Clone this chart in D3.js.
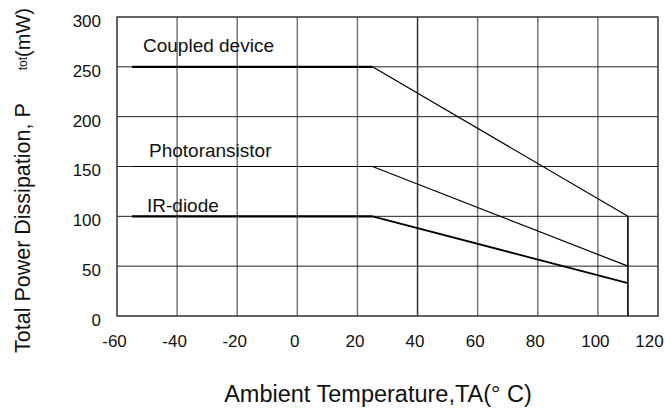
<!DOCTYPE html>
<html><head><meta charset="utf-8">
<script src="https://cdn.jsdelivr.net/npm/d3@7"></script>
<style>
html,body{margin:0;padding:0;background:#fff;}
svg{display:block;font-family:"Liberation Sans",Arial,sans-serif;}
</style></head>
<body>
<script>
// ---- data ----
const xTicks = [-60, -40, -20, 0, 20, 40, 60, 80, 100, 120];
const yTicks = [0, 50, 100, 150, 200, 250, 300];
const seriesNames = ["Coupled device", "Photoransistor", "IR-diode"];
const temps = [-55, 25, 110];
const coupledValues = [250, 250, 100];
const photoValues = [150, 150, 50];
const irValues = [100, 100, 33];
const cutoffTemp = 110;
const xTitle = "Ambient Temperature,TA(° C)";
const yTitleMain = "Total Power Dissipation, P";
const yTitleSub = "tot";
const yTitleUnit = "(mW)";

const W = 665, H = 410;
const svg = d3.select("body").append("svg").attr("width", W).attr("height", H);

const x = d3.scaleLinear().domain([-60, 120]).range([117, 658]);
const y = d3.scaleLinear().domain([0, 300]).range([316, 17]);

// vertical gridlines
svg.append("g").selectAll("line")
  .data(xTicks.slice(1, -1)).join("line")
  .attr("x1", d => x(d)).attr("x2", d => x(d))
  .attr("y1", y(300)).attr("y2", y(0))
  .attr("stroke", d => d === 40 ? "#333" : "#777").attr("stroke-width", 1.5);

// horizontal gridlines
svg.append("g").selectAll("line")
  .data(yTicks.slice(1, -1)).join("line")
  .attr("x1", x(-60)).attr("x2", x(120))
  .attr("y1", d => y(d)).attr("y2", d => y(d))
  .attr("stroke", "#222").attr("stroke-width", 1);

// frame
svg.append("rect")
  .attr("x", x(-60)).attr("y", y(300))
  .attr("width", x(120) - x(-60)).attr("height", y(0) - y(300))
  .attr("fill", "none").attr("stroke", "#333").attr("stroke-width", 1.5);

// axes (labels only, via d3 axes)
const fmt = d => String(d);
const xAxis = svg.append("g").attr("transform", `translate(-3,${y(0)})`)
  .call(d3.axisBottom(x).tickValues(xTicks).tickSize(0).tickPadding(19).tickFormat(fmt));
const yAxis = svg.append("g").attr("transform", `translate(${x(-60) - 16},4)`)
  .call(d3.axisLeft(y).tickValues(yTicks).tickSize(0).tickPadding(0).tickFormat(fmt));
[xAxis, yAxis].forEach(a => {
  a.select(".domain").remove();
  a.selectAll("text").attr("font-size", 17).attr("fill", "#111")
    .attr("font-family", "Liberation Sans, Arial, sans-serif");
});
xAxis.selectAll(".tick").filter(d => d === 120).select("text").attr("dx", -6);

// data series
const seriesData = [coupledValues, photoValues, irValues];
const flatWidth = [2.4, 1.2, 2.2];
const slopeWidth = [1.2, 1.2, 1.8];
const seg = d3.line().x(d => x(d[0])).y(d => y(d[1]));
seriesData.forEach((vals, k) => {
  svg.append("path")
    .attr("d", seg([[temps[0], vals[0]], [temps[1], vals[1]]]))
    .attr("fill", "none").attr("stroke", "#000").attr("stroke-width", flatWidth[k]);
  svg.append("path")
    .attr("d", seg([[temps[1], vals[1]], [temps[2], vals[2]]]))
    .attr("fill", "none").attr("stroke", "#000").attr("stroke-width", slopeWidth[k]);
});
// cutoff vertical line
svg.append("line")
  .attr("x1", x(cutoffTemp)).attr("x2", x(cutoffTemp))
  .attr("y1", y(d3.max(seriesData, v => v[2]))).attr("y2", y(0))
  .attr("stroke", "#000").attr("stroke-width", 1.6);

// series labels
const labelPos = [[143, 52], [149, 157], [147, 212]];
svg.append("g").selectAll("text").data(seriesNames).join("text")
  .attr("x", (d, i) => labelPos[i][0]).attr("y", (d, i) => labelPos[i][1])
  .attr("font-size", 19).attr("fill", "#111").text(d => d);

// x title
svg.append("text").attr("x", 378).attr("y", 402).attr("text-anchor", "middle")
  .attr("font-size", 23.5).attr("fill", "#111").text(xTitle);

// y title
const yt = svg.append("text").attr("transform", "translate(30,353) rotate(-90)")
  .attr("font-size", 21.5).attr("fill", "#111");
yt.append("tspan").text(yTitleMain);
yt.append("tspan").attr("dx", 33).attr("font-size", 12).attr("dy", -3).text(yTitleSub);
yt.append("tspan").attr("dy", 3).attr("font-size", 20).text(yTitleUnit);
</script>
</body></html>
